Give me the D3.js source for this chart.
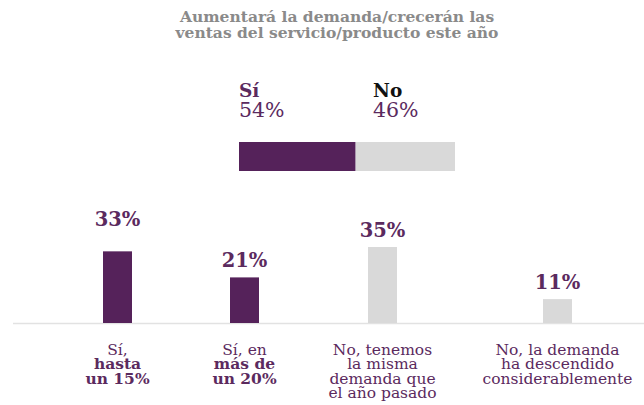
<!DOCTYPE html>
<html>
<head>
<meta charset="utf-8">
<script src="https://cdn.jsdelivr.net/npm/d3@7"></script>
<style>
  body { margin: 0; background: #fff; }
  text { font-family: "DejaVu Serif", serif; }
</style>
</head>
<body>
<div id="chart"></div>
<script>
// data
var titleLines = ["Aumentará la demanda/crecerán las", "ventas del servicio/producto este año"];
var splitLabels = ["Sí", "No"];
var splitValues = [54, 46];
var categories = ["hasta15", "mas20", "misma", "descendido"];
var values = [33, 21, 35, 11];
var isYes = [true, true, false, false];
// category label lines: [text, bold]
var catLabels = [
    [["Sí,", false], ["hasta", true], ["un 15%", true]],
    [["Sí, en", false], ["más de", true], ["un 20%", true]],
    [["No, tenemos", false], ["la misma", false], ["demanda que", false], ["el año pasado", false]],
    [["No, la demanda", false], ["ha descendido", false], ["considerablemente", false]]
];

var purple = "#55225a", grey = "#d9d9d9", labelColor = "#5b2a5e";

var W = 644, H = 405;
var svg = d3.select("#chart").append("svg")
    .attr("width", W)
    .attr("height", H);

// Title
svg.append("g").selectAll("text")
    .data(titleLines)
    .enter()
    .append("text")
    .attr("x", 337)
    .attr("y", function (d, i) { return 22 + i * 16 })
    .attr("text-anchor", "middle")
    .style("font-size", "15.5px")
    .style("font-weight", "bold")
    .style("fill", "#8a8a8a")
    .text(function (d) { return d });

// stacked Sí / No bar
var xs = d3.scaleLinear().domain([0, 100]).range([239, 455]);
var cum = [0, splitValues[0]];
svg.append("g").selectAll("rect")
    .data(splitValues)
    .enter()
    .append("rect")
    .attr("x", function (d, i) { return xs(cum[i]) })
    .attr("width", function (d) { return xs(d) - xs(0) })
    .attr("y", 142)
    .attr("height", 29)
    .attr("fill", function (d, i) { return i == 0 ? purple : grey });

var splitX = [239, 373];
svg.append("g").selectAll("text")
    .data(splitLabels)
    .enter()
    .append("text")
    .attr("x", function (d, i) { return splitX[i] })
    .attr("y", 97)
    .style("font-size", "18.5px")
    .style("font-weight", "bold")
    .style("fill", function (d, i) { return i == 0 ? labelColor : "#111" })
    .text(function (d) { return d });

svg.append("g").selectAll("text")
    .data(splitValues)
    .enter()
    .append("text")
    .attr("x", function (d, i) { return splitX[i] })
    .attr("y", 117)
    .style("font-size", "20.5px")
    .style("fill", labelColor)
    .text(function (d) { return d + "%" });

// bars
var x = d3.scaleOrdinal().domain(categories).range([117.5, 244.5, 382.5, 557.5]);
var y = d3.scaleLinear().domain([0, 35]).range([323, 247]);
var barW = 29;

svg.append("line")
    .attr("x1", 13).attr("x2", W)
    .attr("y1", y(0) + 0.5).attr("y2", y(0) + 0.5)
    .attr("stroke", "#e2e2e2")
    .attr("stroke-width", 1.5);

svg.append("g").selectAll("rect")
    .data(values)
    .enter()
    .append("rect")
    .attr("x", function (d, i) { return x(categories[i]) - barW / 2 })
    .attr("width", barW)
    .attr("y", function (d) { return y(d) })
    .attr("height", function (d) { return y(0) - y(d) })
    .attr("fill", function (d, i) { return isYes[i] ? purple : grey });

svg.append("g").selectAll("text")
    .data(values)
    .enter()
    .append("text")
    .attr("x", function (d, i) { return x(categories[i]) })
    .attr("y", function (d, i) { return y(d) - (i == 0 ? 25 : 10) })
    .attr("text-anchor", "middle")
    .style("font-size", "19.5px")
    .style("font-weight", "bold")
    .style("fill", labelColor)
    .text(function (d) { return d + "%" });

// category labels
var cl = svg.append("g").selectAll("text")
    .data(catLabels)
    .enter()
    .append("text")
    .attr("text-anchor", "middle")
    .style("font-size", "15.5px")
    .style("fill", labelColor);

cl.selectAll("tspan")
    .data(function (d, i) { return d.map(function (l) { return { t: l[0], b: l[1], i: i } }) })
    .enter()
    .append("tspan")
    .attr("x", function (d) { return x(categories[d.i]) })
    .attr("y", function (d, j) { return 355 + j * 14.3 })
    .style("font-weight", function (d) { return d.b ? "bold" : "normal" })
    .text(function (d) { return d.t });
</script>
</body>
</html>
